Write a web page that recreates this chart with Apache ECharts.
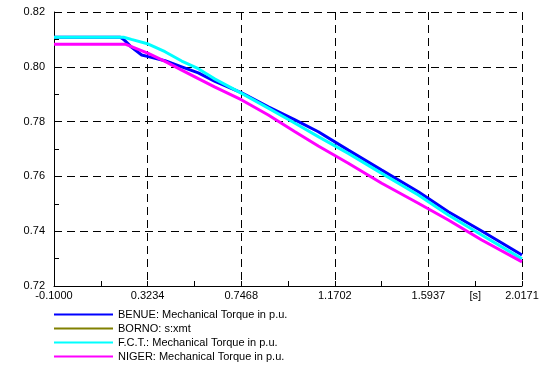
<!DOCTYPE html>
<html>
<head>
<meta charset="utf-8">
<script src="https://cdn.jsdelivr.net/npm/echarts@6/dist/echarts.min.js"></script>
<style>
  html, body { margin: 0; padding: 0; background: #fff; }
  #chart { width: 544px; height: 365px; }
</style>
</head>
<body>
<div id="chart"></div>
<script>
// time axis (s) and the four torque traces
const seriesNames = ['BENUE: Mechanical Torque in p.u.', 'BORNO: s:xmt', 'F.C.T.: Mechanical Torque in p.u.', 'NIGER: Mechanical Torque in p.u.']
const seriesColors = ['#0000ff', '#808000', '#00ffff', '#ff00ff']

const benueT = [-0.1, 0.20, 0.215, 0.25, 0.2967, 0.3266, 0.4021, 0.4777, 0.5528, 0.6283, 0.7491, 0.8694, 0.9902, 1.0956, 1.2313, 1.3824, 1.548, 1.6837, 1.8348, 2.0171]
const benueV = [0.8108, 0.8108, 0.8100, 0.8072, 0.8043, 0.8037, 0.8022, 0.8000, 0.7978, 0.7947, 0.7905, 0.7854, 0.7806, 0.7763, 0.7696, 0.7623, 0.7544, 0.7471, 0.7401, 0.7313]

const bornoT = []
const bornoV = []

const fctT = [-0.1, 0.215, 0.25, 0.3266, 0.4021, 0.4777, 0.5528, 0.6283, 0.7491, 0.8694, 0.9902, 1.0956, 1.2313, 1.3824, 1.548, 1.6837, 1.8348, 2.0171]
const fctV = [0.8108, 0.8108, 0.8100, 0.8083, 0.8055, 0.8021, 0.7993, 0.7955, 0.7903, 0.7849, 0.7794, 0.7745, 0.7684, 0.7611, 0.7532, 0.7459, 0.7386, 0.7299]

const nigerT = [-0.1, 0.225, 0.3266, 0.4021, 0.4777, 0.5528, 0.6283, 0.7491, 0.8694, 0.9902, 1.0956, 1.2313, 1.3824, 1.548, 1.6837, 1.8348, 2.0171]
const nigerV = [0.8082, 0.8082, 0.8049, 0.8020, 0.7988, 0.7957, 0.7926, 0.7879, 0.7824, 0.7763, 0.7711, 0.7648, 0.7575, 0.7502, 0.7441, 0.7368, 0.7288]

// x axis: -0.1000 .. 2.0171 in five steps; axis runs from 0 (shifted by xMin) so ticks start at min
const xMin = -0.1
const xMax = 2.01708
const xStep = (xMax - xMin) / 5
const xUnitLabel = '[s]'
const xUnitAt = 1.80539

const yMin = 0.72
const yMax = 0.82
const yStep = 0.02

const font = 'Liberation Sans'

const chart = echarts.init(document.getElementById('chart'))

function pairs(ts, vs) {
  return ts.map((t, i) => [t - xMin, vs[i]])
}

const traces = [[benueT, benueV], [bornoT, bornoV], [fctT, fctV], [nigerT, nigerV]]

const dashed = { color: '#000', width: 1, type: [8, 5] }

const options = {
  animation: false,
  backgroundColor: '#fff',
  grid: {
    left: 54,
    right: 22,
    top: 12,
    bottom: 79,
    outerBoundsMode: 'none',
  },
  legend: {
    orient: 'vertical',
    left: 54,
    top: 308,
    padding: 0,
    icon: 'rect',
    itemWidth: 59,
    itemHeight: 2,
    itemGap: 1,
    data: seriesNames,
    textStyle: { fontFamily: font, fontSize: 11, color: '#000', lineHeight: 13 },
  },
  xAxis: {
    type: 'value',
    min: 0,
    max: xStep * 5,
    interval: xStep,
    axisLine: { show: true, onZero: false, lineStyle: { color: '#000', width: 1 } },
    axisTick: { show: true, inside: true, length: 5, lineStyle: { color: '#000' } },
    minorTick: { show: true, splitNumber: 2, length: 5, lineStyle: { color: '#000' } },
    splitLine: { show: true, lineStyle: dashed },
    axisLabel: {
      margin: 4,
      fontFamily: font,
      fontSize: 11,
      color: '#000',
      formatter: (v) => (v + xMin).toFixed(4),
    },
  },
  yAxis: {
    type: 'value',
    min: yMin,
    max: yMax,
    interval: yStep,
    axisLine: { show: true, onZero: false, lineStyle: { color: '#000', width: 1 } },
    axisTick: { show: true, inside: true, length: 5, lineStyle: { color: '#000' } },
    minorTick: { show: true, splitNumber: 2, length: 5, lineStyle: { color: '#000' } },
    splitLine: { show: true, lineStyle: dashed },
    axisLabel: {
      margin: 9,
      fontFamily: font,
      fontSize: 11,
      color: '#000',
      formatter: (v) => v.toFixed(2),
    },
  },
  series: seriesNames.map((name, i) => ({
    name,
    type: 'line',
    symbol: 'none',
    data: pairs(traces[i][0], traces[i][1]),
    lineStyle: { color: seriesColors[i], width: 3 },
    itemStyle: { color: seriesColors[i] },
  })),
}

chart.setOption(options, true)

// unit label sits on the minor tick between the last two labels
const unitX = chart.convertToPixel({ xAxisIndex: 0 }, xUnitAt - xMin)
const axisY = chart.convertToPixel({ yAxisIndex: 0 }, yMin)
chart.setOption({
  graphic: [{
    type: 'text',
    x: unitX,
    y: axisY + 10,
    style: {
      text: xUnitLabel,
      fontFamily: font,
      fontSize: 11,
      fill: '#000',
      align: 'center',
      verticalAlign: 'middle',
    },
  }],
})
</script>
</body>
</html>
